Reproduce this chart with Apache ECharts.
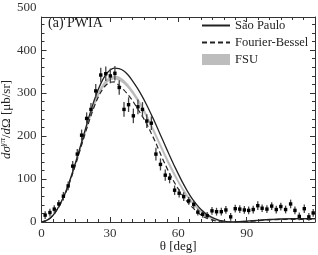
<!DOCTYPE html>
<html><head><meta charset="utf-8">
<script src="https://cdn.jsdelivr.net/npm/echarts@6/dist/echarts.min.js"></script>
<style>html,body{margin:0;padding:0;background:#fff}#c{width:318px;height:255px}</style>
</head><body><div id="c"></div>
<script>
// ---- data ----
const curveX = [0,2,4,6,8,10,12,14,16,18,20,22,24,26,28,30,32,34,36,38,40,42,44,46,48,50,52,54,56,58,60,62,64,66,68,70,72,74,76,78,80,82,84,86,90,95,100,105,110,115,120];
const saoPaulo = [0,3,10,22,40,62,90,122,157,193, 230,265,296,322,341,353,358,357,352,342, 328,312,294,274,252,229,205,181,157,134, 112,91,72,55,41,29,20,13,8,4, 2,0.5,0,0.5,2,4,6,7,8,8,8];
const fourierBessel = [0,3,10,22,39,60,87,118,151,186, 220,252,280,302,317,325,326,318,308,296, 282,265,248,230,208,186,161,137,115,95, 77,61,47,35,25,16,10,6,3,1, 0,0,0,0.5,1,3,5,6,6,6,6];
const fsuLow = [0,3,9,21,38,59,85,117,150,185, 220,253,282,305,321,330,333,330,323,312, 298,282,264,244,222,199,176,153,131,110, 91,73,57,44,32,22,14,8,4,1.5, 0.5,0,0,0,1,2.5,4,5,6,6,6];
const fsuHigh = [0,3,11,23,42,63,91,123,158,193, 228,261,290,313,329,338,341,338,331,320, 306,290,272,252,230,207,184,161,139,118, 97,79,63,49,36,26,18,12,6,3.5, 1.5,0.5,0.5,1,2,3.5,6,7,8,8,8];
const ptX = [1.6,3.7,5.6,7.6,9.6,11.7,13.7,15.7,17.6,19.8,21.7,23.8,26.0,28.2,30.2,32.2,34.1,36.2,38.2,40.3,42.3,44.3,46.2,48.2,50.2,52.2,54.3,56.2,58.4,60.4,62.4,64.6,66.8,68.6,70.7,72.7,74.8,76.8,78.9,80.9,83.0,85.0,87.0,89.0,90.9,92.9,94.9,96.8,98.9,101.0,103.0,105.0,107.1,109.3,111.2,113.1,115.3,117.3,119.2];
const ptY = [16,22,30,42,60,84,130,158,202,241, 262,305,342,345,340,346,313,262,273,247, 268,262,235,230,158,134,109,102,74,67, 59,49,41,23,18,15,26,24,24,28, 12,31,30,28,27,29,38,32,30,37, 29,36,29,42,27,13,31,12,21];
const ptErr = [9,9,9,9,10,10,12,12,13,14, 15,16,17,17,17,17,17,17,17,17, 17,17,16,16,15,14,13,12,11,10, 10,9,9,8,8,8,9,9,9,9, 9,9,9,9,9,9,10,9,9,9, 9,9,9,10,9,9,10,9,9];
const xTicks = {min:0, max:120, interval:30};
const yTicks = {min:0, max:477, interval:100};
const extraYLabel = 500;
const panelLabel = '(a) PWIA';

// ---- chart ----
const FONT = 'Liberation Serif';
const INK = '#222';
const chart = echarts.init(document.getElementById('c'), null, {renderer:'canvas'});
const zip = (xs, ys) => xs.map((x, i) => [x, ys[i]]);
function axis(extra, split){
  return Object.assign({
    type:'value',
    axisLine:{show:true, onZero:false, lineStyle:{color:'#333', width:1}},
    axisTick:{show:true, inside:true, length:5, lineStyle:{color:'#333', width:1}},
    minorTick:{show:true, splitNumber:split, length:3, lineStyle:{color:'#333', width:1}},
    splitLine:{show:false}
  }, extra);
}
const labelStyle = {fontFamily:FONT, fontSize:13, color:'#333'};
chart.setOption({
  animation:false,
  textStyle:{fontFamily:FONT},
  title:{text:panelLabel, left:48, top:16, padding:0, textStyle:{fontFamily:FONT, fontSize:14, fontWeight:'normal', color:INK}},
  legend:{orient:'vertical', left:201, top:19, padding:0, itemWidth:28, itemHeight:11, itemGap:4,
    textStyle:{fontFamily:FONT, fontSize:12.5, color:INK},
    data:[{name:'São Paulo', itemStyle:{opacity:0}},{name:'Fourier-Bessel', itemStyle:{opacity:0}},{name:'FSU', icon:'rect', itemStyle:{color:'#bdbdbd'}}]},
  grid:{left:41.5, right:3, top:17, bottom:33, containLabel:false, outerBoundsMode:'none'},
  xAxis:[
    axis({position:'bottom', min:xTicks.min, max:xTicks.max, interval:xTicks.interval,
      axisLabel:Object.assign({margin:5, showMaxLabel:false}, labelStyle),
      name:'θ [deg]', nameLocation:'middle', nameGap:18, nameMoveOverlap:false,
      nameTextStyle:{fontFamily:FONT, fontSize:13, color:INK}}, 6),
    axis({position:'top', min:xTicks.min, max:xTicks.max, interval:xTicks.interval, axisLabel:{show:false}}, 6)
  ],
  yAxis:[
    axis({position:'left', min:yTicks.min, max:yTicks.max, interval:yTicks.interval,
      axisLabel:Object.assign({margin:5, showMaxLabel:false}, labelStyle),
      name:'{i|dσ}{s|γπ}{n|/}{i|d}{n|Ω [μb/sr]}', nameLocation:'middle', nameGap:26, nameRotate:90, nameMoveOverlap:false,
      nameTextStyle:{fontFamily:FONT, fontSize:13, color:INK, rich:{
        i:{fontFamily:FONT, fontSize:13, fontStyle:'italic', color:INK},
        n:{fontFamily:FONT, fontSize:13, color:INK},
        s:{fontFamily:FONT, fontSize:9, fontStyle:'italic', color:INK, padding:[0,0,8,0]}}}}, 5),
    axis({position:'right', min:yTicks.min, max:yTicks.max, interval:yTicks.interval, axisLabel:{show:false}}, 5)
  ],
  series:[
    {name:'FSU', type:'custom', xAxisIndex:0, yAxisIndex:0, itemStyle:{color:'#bdbdbd'},
      data:[[0,0]], encode:{x:0, y:1}, z:1,
      renderItem:function(params, api){
        const pts = [];
        for (let i = 0; i < curveX.length; i++) pts.push(api.coord([curveX[i], fsuHigh[i]]));
        for (let i = curveX.length - 1; i >= 0; i--) pts.push(api.coord([curveX[i], fsuLow[i]]));
        return {type:'polygon', shape:{points:pts, smooth:0}, style:{fill:'#bdbdbd', stroke:'#b0b0b0', lineWidth:0.5}};
      }},
    {name:'Fourier-Bessel', type:'line', data:zip(curveX, fourierBessel), symbol:'none', smooth:0.3, z:3,
      lineStyle:{color:INK, width:1.2, type:[5,3]}, itemStyle:{color:INK}},
    {name:'São Paulo', type:'line', data:zip(curveX, saoPaulo), symbol:'none', smooth:0.3, z:3,
      lineStyle:{color:INK, width:1.3}, itemStyle:{color:INK}},
    {name:'data', type:'custom', z:5, data:ptX.map((x, i) => [x, ptY[i], ptErr[i]]), encode:{x:0, y:1},
      renderItem:function(params, api){
        const x = api.value(0), y = api.value(1), e = api.value(2);
        const p = api.coord([x, y]), lo = api.coord([x, y - e]), hi = api.coord([x, y + e]);
        return {type:'group', children:[
          {type:'line', shape:{x1:p[0], y1:lo[1], x2:p[0], y2:hi[1]}, style:{stroke:'#444', lineWidth:1.3}},
          {type:'rect', shape:{x:p[0]-1.7, y:p[1]-1.7, width:3.4, height:3.4}, style:{fill:'#000'}}
        ]};
      }}
  ]
});
const yPix = chart.convertToPixel({yAxisIndex:0}, extraYLabel);
const x0 = chart.convertToPixel({xAxisIndex:0}, 0);
chart.setOption({graphic:[{type:'text', x:x0 - 5, y:yPix,
  style:{text:String(extraYLabel), fontFamily:FONT, fontSize:13, fill:'#333', align:'right', verticalAlign:'middle'}}]});
</script></body></html>
